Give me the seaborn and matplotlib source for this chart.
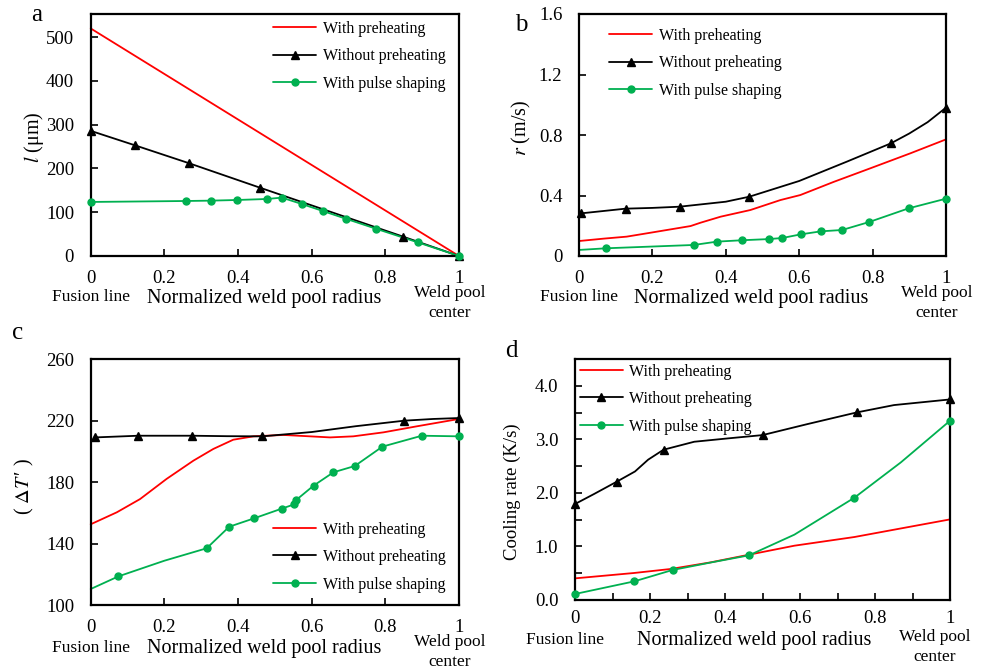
import numpy as np
import pandas as pd
import seaborn as sns
import matplotlib
matplotlib.use('Agg')
import matplotlib.pyplot as plt
from matplotlib.lines import Line2D
from matplotlib.ticker import MultipleLocator

# ---- data ----
series_names = ['With preheating', 'Without preheating', 'With pulse shaping']

# (a) l (um)
a_red_x = [0.0, 1.0]
a_red_y = [520, 0]
a_black_x = [0.0, 0.12, 0.267, 0.46, 0.849, 1.0]
a_black_y = [286, 253, 212, 156, 44, 0]
a_green_x = [0.0, 0.259, 0.326, 0.398, 0.479, 0.519, 0.573, 0.630, 0.692, 0.774, 0.888, 1.0]
a_green_y = [123.5, 125.7, 126.5, 128, 130.3, 133.4, 118.9, 102.9, 85.4, 62.5, 31.2, 0]

# (b) r (m/s)
b_red_x = [0.0, 0.068, 0.13, 0.195, 0.304, 0.331, 0.386, 0.467, 0.549, 0.603, 0.694, 0.794, 0.903, 1.0]
b_red_y = [0.099, 0.115, 0.128, 0.154, 0.198, 0.22, 0.26, 0.304, 0.37, 0.403, 0.49, 0.58, 0.679, 0.771]
b_black_x = [0.006, 0.127, 0.274, 0.464, 0.850, 1.0]
b_black_y = [0.282, 0.313, 0.326, 0.392, 0.745, 0.981]
b_black_tx = [0.2, 0.4, 0.6, 0.73, 0.9, 0.95]
b_black_ty = [0.318, 0.359, 0.496, 0.624, 0.81, 0.885]
b_green_x = [0.074, 0.313, 0.376, 0.443, 0.518, 0.554, 0.604, 0.659, 0.717, 0.791, 0.898, 1.0]
b_green_y = [0.051, 0.073, 0.095, 0.104, 0.112, 0.119, 0.143, 0.163, 0.172, 0.225, 0.315, 0.379]
b_green_tx = [0.0]
b_green_ty = [0.040]

# (c) delta T'
c_red_x = [0.0, 0.071, 0.134, 0.206, 0.279, 0.333, 0.387, 0.442, 0.523, 0.595, 0.65, 0.713, 0.795, 0.885, 1.0]
c_red_y = [152.5, 160.3, 168.9, 182, 193.9, 201.5, 207.5, 209.7, 210.6, 209.7, 209.0, 209.7, 212.3, 216.2, 221]
c_black_x = [0.012, 0.129, 0.276, 0.466, 0.852, 1.0]
c_black_y = [209.0, 210.1, 210.1, 209.7, 219.9, 221.6]
c_black_tx = [0.37, 0.6, 0.72, 0.93]
c_black_ty = [209.8, 212.5, 216.3, 221.0]
c_green_x = [0.075, 0.315, 0.376, 0.444, 0.519, 0.553, 0.557, 0.605, 0.659, 0.717, 0.792, 0.899, 1.0]
c_green_y = [118.6, 136.9, 150.9, 156.4, 162.7, 165.5, 168.1, 177.6, 186.3, 190.4, 203, 210.1, 209.7]
c_green_tx = [0.0, 0.2]
c_green_ty = [110.4, 128.8]

# (d) cooling rate (K/s)
d_red_x = [0.0, 0.157, 0.255, 0.362, 0.464, 0.585, 0.745, 0.851, 1.0]
d_red_y = [0.404, 0.504, 0.579, 0.703, 0.846, 1.014, 1.176, 1.313, 1.505]
d_black_x = [0.0, 0.111, 0.236, 0.5, 0.751, 1.0]
d_black_y = [1.792, 2.208, 2.806, 3.079, 3.502, 3.745]
d_black_tx = [0.051, 0.16, 0.195, 0.318, 0.407, 0.62, 0.851]
d_black_ty = [1.98, 2.40, 2.62, 2.955, 3.017, 3.285, 3.64]
d_green_x = [0.0, 0.158, 0.26, 0.464, 0.745, 1.0]
d_green_y = [0.112, 0.348, 0.56, 0.834, 1.91, 3.347]
d_green_tx = [0.362, 0.585, 0.869]
d_green_ty = [0.70, 1.22, 2.57]

x_ticks = [0, 0.2, 0.4, 0.6, 0.8, 1.0]
x_ticklabels = ['0', '0.2', '0.4', '0.6', '0.8', '1']

# ---- style ----
sns.set_style('ticks')
plt.rcParams['font.family'] = ['Liberation Serif', 'DejaVu Serif']
plt.rcParams['mathtext.fontset'] = 'stix'
plt.rcParams['xtick.direction'] = 'in'
plt.rcParams['ytick.direction'] = 'in'
plt.rcParams['axes.edgecolor'] = 'black'
plt.rcParams['xtick.color'] = 'black'
plt.rcParams['ytick.color'] = 'black'
plt.rcParams['text.color'] = 'black'
plt.rcParams['axes.labelcolor'] = 'black'

RED = '#ff0000'
BLACK = '#000000'
GREEN = '#00b050'
colors = [RED, BLACK, GREEN]
markers = [None, '^', 'o']
msize = [0, 5.5, 5]

W, H = 988, 672
fig = plt.figure(figsize=(W / 100, H / 100), dpi=100)


def px_axes(l, t, r, b):
    return fig.add_axes([l / W, 1 - b / H, (r - l) / W, (b - t) / H])


def trace(xm, ym, xt=(), yt=()):
    df = pd.DataFrame({'x': list(xm) + list(xt), 'y': list(ym) + list(yt)})
    return df.sort_values('x')


def draw(ax, series):
    for i, (xm, ym, xt, yt) in enumerate(series):
        df = trace(xm, ym, xt, yt)
        sns.lineplot(data=df, x='x', y='y', ax=ax, color=colors[i], lw=1.3,
                     sort=False, estimator=None, clip_on=False)
        if markers[i] is not None:
            ax.plot(xm, ym, ls='none', marker=markers[i], ms=msize[i],
                    color=colors[i], clip_on=False, zorder=5)


def frame(ax, ylim, yticks, ylabels, xpad=10):
    ax.set_xlim(0, 1)
    ax.set_ylim(*ylim)
    ax.set_xticks(x_ticks)
    ax.set_xticklabels(x_ticklabels, fontsize=13.5)
    ax.set_yticks(yticks)
    ax.set_yticklabels(ylabels, fontsize=13.5)
    ax.tick_params(axis='both', direction='in', length=5, width=1.2,
                   top=False, right=False, colors='black')
    ax.tick_params(axis='x', pad=xpad)
    ax.tick_params(axis='y', pad=12)
    for s in ax.spines.values():
        s.set_visible(True)
        s.set_linewidth(1.6)
        s.set_color('black')
    ax.set_xlabel('')
    ax.set_ylabel('')


def legend(ax, x, y):
    handles = [Line2D([], [], color=colors[i], lw=1.3, marker=markers[i], ms=msize[i])
               for i in range(3)]
    ax.legend(handles, series_names, loc='center left', bbox_to_anchor=(x, y),
              frameon=False, fontsize=11.5, handlelength=2.7, handletextpad=0.4,
              labelspacing=0.72, borderpad=0, borderaxespad=0)


def xnotes(ax, fus_x, fus_dy, norm_x, norm_dy, weld_x, weld_dy):
    kw = dict(xycoords=('data', 'axes fraction'), textcoords='offset pixels',
              ha='center', va='center')
    ax.annotate('Fusion line', xy=(fus_x, 0), xytext=(0, -fus_dy), fontsize=12.5, **kw)
    ax.annotate('Normalized weld pool radius', xy=(norm_x, 0), xytext=(0, -norm_dy),
                fontsize=14.5, **kw)
    ax.annotate('Weld pool', xy=(weld_x, 0), xytext=(0, -weld_dy), fontsize=12.5, **kw)
    ax.annotate('center', xy=(weld_x, 0), xytext=(0, -weld_dy - 20), fontsize=12.5, **kw)


# (a)
ax_a = px_axes(90.7, 14, 459, 256)
draw(ax_a, [(a_red_x, a_red_y, [], []), (a_black_x, a_black_y, [], []),
            (a_green_x, a_green_y, [], [])])
frame(ax_a, (0, 553), [0, 100, 200, 300, 400, 500], ['0', '100', '200', '300', '400', '500'])
legend(ax_a, 0.495, 0.825)
xnotes(ax_a, 0.0, 41, 0.47, 43, 0.975, 37)
ax_a.text(-0.155, 0.49, r'$l$ (μm)', transform=ax_a.transAxes, rotation=90,
          ha='center', va='center', fontsize=14.5)

# (b)
ax_b = px_axes(579, 14, 946, 256)
draw(ax_b, [(b_red_x, b_red_y, [], []), (b_black_x, b_black_y, b_black_tx, b_black_ty),
            (b_green_x, b_green_y, b_green_tx, b_green_ty)])
frame(ax_b, (0, 1.6), [0, 0.4, 0.8, 1.2, 1.6], ['0', '0.4', '0.8', '1.2', '1.6'])
legend(ax_b, 0.082, 0.797)
xnotes(ax_b, 0.0, 41, 0.47, 43, 0.975, 37)
ax_b.text(-0.158, 0.53, r'$r$ (m/s)', transform=ax_b.transAxes, rotation=90,
          ha='center', va='center', fontsize=14.5)

# (c)
ax_c = px_axes(90.7, 359, 459, 605)
draw(ax_c, [(c_red_x, c_red_y, [], []), (c_black_x, c_black_y, c_black_tx, c_black_ty),
            (c_green_x, c_green_y, c_green_tx, c_green_ty)])
frame(ax_c, (100, 260), [100, 140, 180, 220, 260], ['100', '140', '180', '220', '260'])
legend(ax_c, 0.495, 0.195)
xnotes(ax_c, 0.0, 43, 0.47, 44, 0.975, 37)
ax_c.text(-0.18, 0.48, r'( $\mathit{\Delta T}\,$′ )', transform=ax_c.transAxes,
          rotation=90, ha='center', va='center', fontsize=14.5)

# (d)
ax_d = px_axes(575, 359, 950, 600)
draw(ax_d, [(d_red_x, d_red_y, [], []), (d_black_x, d_black_y, d_black_tx, d_black_ty),
            (d_green_x, d_green_y, d_green_tx, d_green_ty)])
frame(ax_d, (0, 4.5), [0, 1, 2, 3, 4], ['0.0', '1.0', '2.0', '3.0', '4.0'], xpad=7)
ax_d.xaxis.set_minor_locator(MultipleLocator(0.1))
ax_d.yaxis.set_minor_locator(MultipleLocator(0.5))
ax_d.tick_params(which='minor', direction='in', length=5, width=1.2, top=False,
                 right=False, colors='black')
legend(ax_d, 0.013, 0.834)
xnotes(ax_d, -0.027, 40, 0.477, 41, 0.959, 37)
ax_d.text(-0.168, 0.45, 'Cooling rate (K/s)', transform=ax_d.transAxes, rotation=90,
          ha='center', va='center', fontsize=13.5)

# panel letters
for letter, (px, py) in zip('abcd', [(37, 15), (521, 25), (18, 333), (511, 351)]):
    fig.text(px / W, 1 - py / H, letter, fontsize=18, ha='center', va='center')

fig.savefig('out.png', dpi=100)
